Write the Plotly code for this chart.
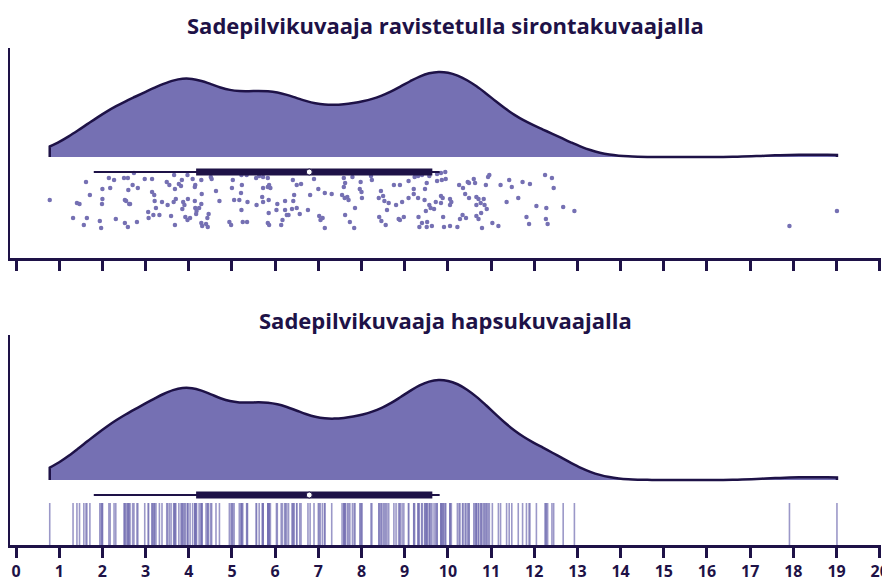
import plotly.graph_objects as go

# ---- data ----
values = [
    1.62, 2.15, 2.27, 2.50, 2.59, 2.00, 2.18, 2.60, 0.78, 1.41, 1.47, 1.71, 2.00, 1.99, 2.52, 2.55, 2.62,
    1.32, 1.64, 1.94, 2.31, 2.52, 1.57, 1.97, 2.59,
    2.73, 2.98, 3.15, 3.49, 3.55, 3.68, 3.77, 3.82, 3.84, 3.97, 4.09, 4.29, 4.15, 4.14, 4.51, 4.53, 3.66,
    2.70, 2.82, 3.15, 3.20, 3.21, 3.38, 3.51, 3.65, 3.70, 3.87, 3.85, 3.90, 3.98, 4.14, 4.30, 4.29, 4.15,
    4.24, 4.18, 4.17, 4.46, 4.43, 4.63, 4.71, 3.24, 3.06, 3.18, 3.32, 3.07, 3.59, 3.92, 3.97, 4.03, 4.29,
    4.31, 4.40, 4.44, 2.80, 3.68, 2.64,
    5.02, 5.22, 5.34, 5.56, 5.63, 5.72, 5.83, 5.72, 5.83, 5.86, 5.89, 6.41, 6.50, 6.60, 5.00, 5.23, 5.21,
    5.05, 5.17, 5.36, 5.57, 5.70, 5.72, 5.85, 6.05, 6.23, 6.44, 6.42, 6.81, 5.22, 5.85, 6.03, 6.23, 6.39,
    6.50, 6.31, 6.27, 6.57, 6.76, 6.17, 4.94, 4.98, 5.25, 5.35, 5.83, 5.86, 6.14,
    6.90, 7.59, 7.62, 7.79, 7.98, 8.22, 8.24, 8.75, 8.89, 7.00, 7.15, 7.31, 7.59, 7.96, 8.00, 8.45, 7.55,
    7.61, 7.67, 7.70, 8.01, 8.40, 8.50, 8.53, 8.63, 8.80, 8.94, 7.85, 8.59, 7.62, 7.02, 7.10, 7.05, 8.41,
    8.46, 8.86, 8.89, 7.73, 8.56, 7.15, 7.83,
    9.09, 9.23, 9.31, 9.40, 9.57, 9.75, 9.84, 9.94, 9.75, 9.86, 9.95, 9.51, 9.47, 9.21, 9.21, 9.09, 9.31,
    9.46, 9.84, 9.88, 9.72, 9.84, 10.05, 10.08, 10.05, 10.26, 10.35, 10.46, 10.49, 10.60, 10.63, 10.93,
    10.96, 10.88, 10.40, 10.49, 10.66, 10.71, 10.76, 10.83, 10.85, 10.66, 10.90, 9.49, 9.57, 9.60, 9.68,
    9.89, 10.34, 10.28, 10.42, 10.66, 10.71, 10.77, 8.98, 9.32, 9.40, 9.52, 9.34, 9.51, 9.63, 9.91, 10.05,
    10.22, 10.79,
    11.22, 11.42, 11.48, 11.73, 11.90, 12.25, 12.41, 12.45, 11.36, 11.63, 12.05, 12.28, 12.67, 12.93,
    11.82, 12.27, 11.03, 11.17, 11.88, 12.31,
    17.91, 19.01,
]

# vertical jitter of each point (depth below the cloud, in jitter units)
jitter = [
    25, 21, 23, 21, 21, 32, 31, 33, 43, 46, 47, 38, 42, 47, 43, 44, 47,
    61, 61, 64, 62, 66, 68, 71, 70,
    16, 22, 22, 25, 28, 32, 27, 29, 23, 18, 22, 23, 28, 30, 20, 22, 18,
    28, 31, 35, 38, 44, 45, 48, 45, 42, 45, 52, 48, 42, 44, 37, 47, 51,
    51, 54, 57, 57, 61, 34, 44, 51, 55, 58, 58, 61, 59, 60, 63, 61, 66,
    69, 67, 70, 65, 68, 47,
    23, 18, 18, 21, 19, 20, 21, 31, 30, 28, 31, 23, 28, 27, 31, 28, 36,
    43, 43, 45, 48, 40, 45, 43, 47, 44, 38, 44, 38, 53, 56, 53, 53, 52,
    51, 58, 58, 57, 53, 63, 65, 68, 65, 65, 66, 68, 68,
    22, 21, 26, 20, 25, 19, 23, 28, 28, 32, 36, 37, 30, 32, 35, 34, 38,
    41, 40, 43, 41, 41, 39, 44, 46, 48, 45, 51, 53, 58, 59, 61, 63, 60,
    64, 62, 63, 65, 68, 71, 71,
    24, 20, 19, 18, 19, 17, 16, 15, 24, 23, 22, 26, 32, 32, 37, 41, 41,
    43, 39, 41, 45, 46, 42, 45, 48, 28, 31, 25, 26, 22, 26, 20,
    18, 28, 37, 41, 40, 42, 46, 42, 48, 48, 52, 54, 48, 51, 52,
    60, 58, 62, 61, 59, 62, 56, 60, 60, 66, 65, 70, 70, 69, 70, 69,
    70, 71,
    28, 23, 30, 25, 27, 18, 21, 31, 45, 41, 49, 51, 50, 54,
    60, 62, 66, 69, 67, 67,
    69, 54,
]

# interval summary shown under the cloud
interval_outer = [1.80, 9.81]
interval_inner = [4.17, 9.64]
median_value = [6.79]

titles = ["Sadepilvikuvaaja ravistetulla sirontakuvaajalla", "Sadepilvikuvaaja hapsukuvaajalla"]
tick_values = list(range(0, 21))

# ---- style ----
DARK = "#1e1247"
FILL = "#7570b3"
FONT = "Open Sans"

fig = go.Figure()

def add_violin(xa, ya, w):
    fig.add_trace(go.Violin(
        x=values, y0=0, orientation="h", side="positive", width=w,
        spanmode="hard", bandwidth=0.66, points=False, scalemode="width",
        fillcolor=FILL, line=dict(color=DARK, width=2.5), opacity=1,
        box_visible=False, meanline_visible=False, showlegend=False,
        xaxis=xa, yaxis=ya, hoverinfo="skip",
    ))

def add_interval(xa, ya, ypos):
    fig.add_trace(go.Scatter(x=interval_outer, y=[ypos, ypos], mode="lines",
                             line=dict(color=DARK, width=2), xaxis=xa, yaxis=ya,
                             showlegend=False, hoverinfo="skip"))
    fig.add_trace(go.Scatter(x=interval_inner, y=[ypos, ypos], mode="lines",
                             line=dict(color=DARK, width=7), xaxis=xa, yaxis=ya,
                             showlegend=False, hoverinfo="skip"))
    fig.add_trace(go.Scatter(x=median_value, y=[ypos], mode="markers",
                             marker=dict(color="white", size=6, line=dict(color=DARK, width=1)),
                             xaxis=xa, yaxis=ya, showlegend=False, hoverinfo="skip"))

# ---------- top panel (xaxis2 / yaxis2) ----------
add_violin("x2", "y2", 170)
fig.add_trace(go.Scatter(
    x=values, y=[-j for j in jitter], mode="markers",
    marker=dict(color=FILL, size=4.5, line=dict(width=0)),
    xaxis="x2", yaxis="y2", showlegend=False, hoverinfo="skip",
))
add_interval("x2", "y2", -15)

# ---------- bottom panel (x / y) ----------
add_violin("x", "y", 200)
rx, ry = [], []
for v in values:
    rx += [v, v, None]
    ry += [-23, -66, None]
fig.add_trace(go.Scatter(
    x=rx, y=ry, mode="lines", line=dict(color="rgba(117,112,179,0.72)", width=1.6),
    xaxis="x", yaxis="y", showlegend=False, hoverinfo="skip",
))
add_interval("x", "y", -15)

xcommon = dict(range=[-0.14, 20.03], tickmode="array", tickvals=tick_values,
               showline=True, linewidth=2.5, linecolor=DARK,
               ticks="outside", ticklen=10, tickwidth=2.5, tickcolor=DARK,
               showgrid=False, zeroline=False, fixedrange=True, automargin=False)
ycommon = dict(showline=True, linewidth=2.5, linecolor=DARK, showticklabels=False,
               ticks="", showgrid=False, zeroline=False, fixedrange=True, automargin=False)

# the page body has an 8px default margin; size the figure so it fits the window
W, H = 882, 579
ML, MR, MT, MB = 2, 9, 40, 42
plot_h = H - MT - MB

fig.update_layout(
    width=W, height=H,
    margin=dict(l=ML, r=MR, t=MT, b=MB),
    paper_bgcolor="white", plot_bgcolor="white",
    font=dict(family=FONT, color=DARK),
    xaxis=dict(**xcommon, anchor="y", showticklabels=True,
               tickfont=dict(family=FONT, size=16, color=DARK, weight="bold")),
    yaxis=dict(**ycommon, domain=[0, 0.4225], range=[-65, 145], anchor="x"),
    xaxis2=dict(**xcommon, anchor="y2", showticklabels=False),
    yaxis2=dict(**ycommon, domain=[0.5775, 1], range=[-101, 109], anchor="x2"),
    annotations=[
        dict(text="<b>%s</b>" % titles[0], x=0.5, xref="paper",
             y=1 + 23 / plot_h, yref="paper", yanchor="middle", xanchor="center",
             showarrow=False, font=dict(size=22, color=DARK, family=FONT)),
        dict(text="<b>%s</b>" % titles[1], x=0.5, xref="paper",
             y=(H - MB - 312) / plot_h, yref="paper", yanchor="middle", xanchor="center",
             showarrow=False, font=dict(size=22, color=DARK, family=FONT)),
    ],
)

fig.write_html("out.html")
